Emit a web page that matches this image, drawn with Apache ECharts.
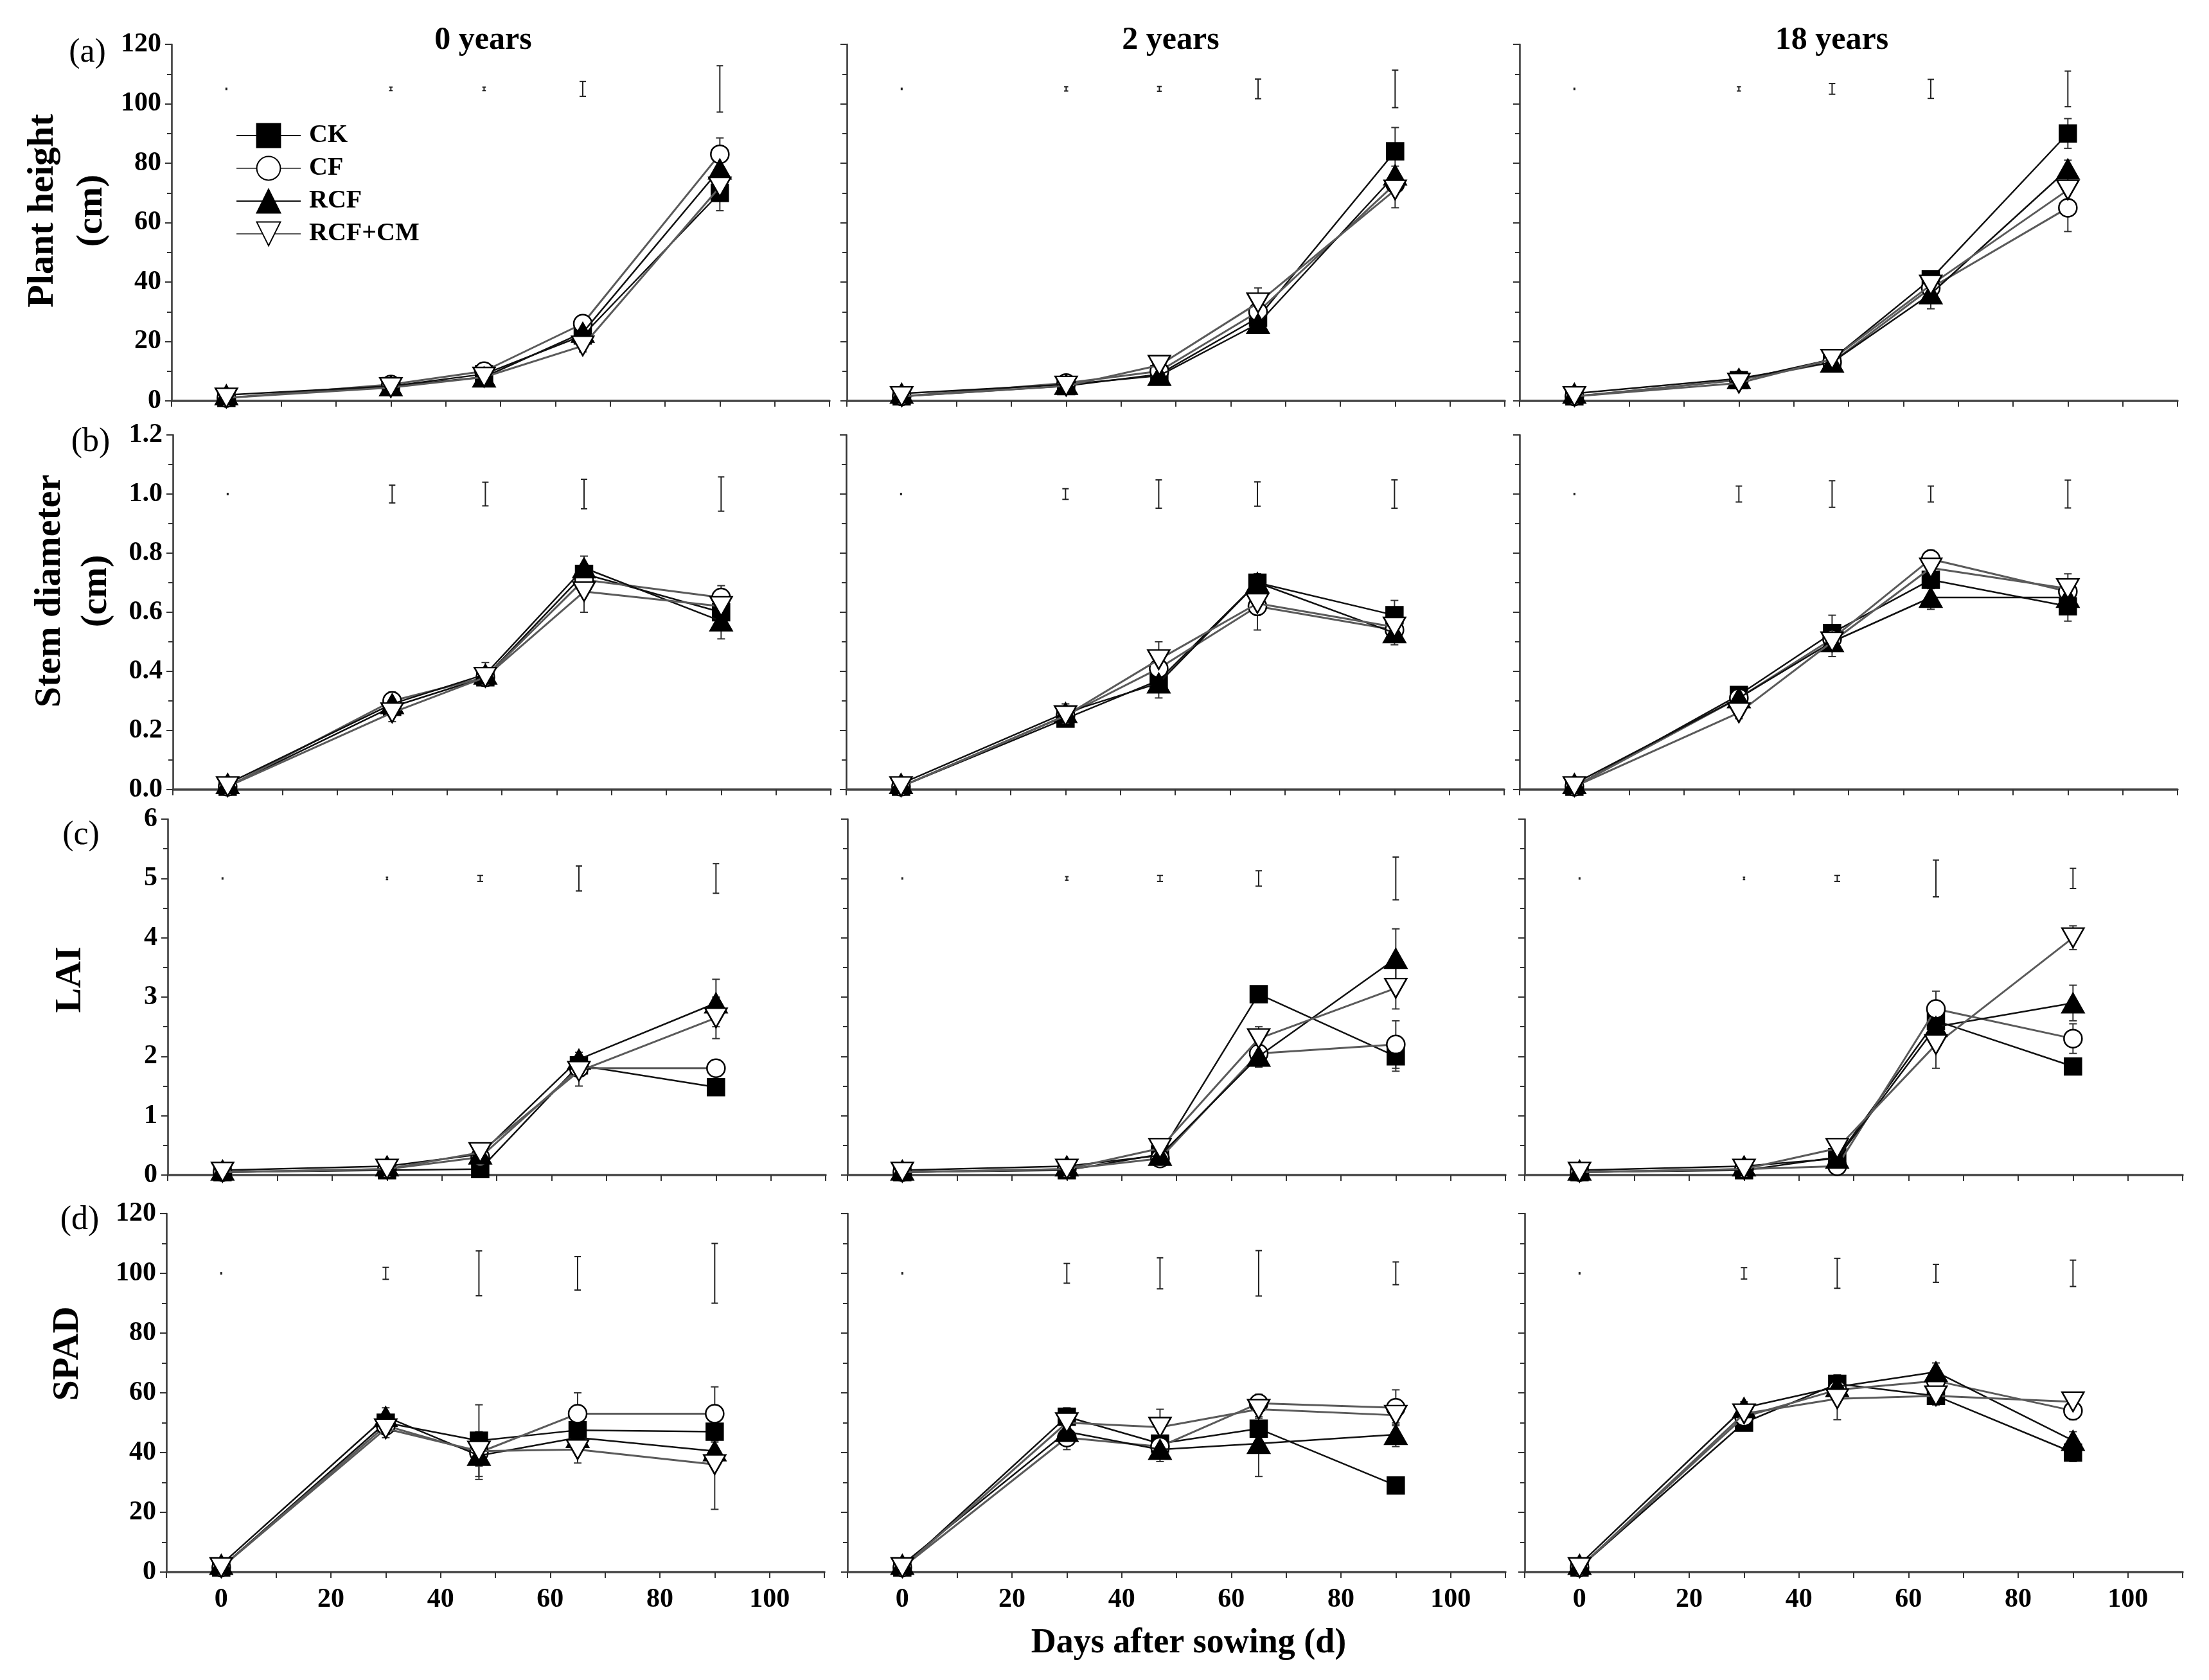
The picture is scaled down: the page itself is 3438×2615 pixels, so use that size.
<!DOCTYPE html>
<html>
<head>
<meta charset="utf-8">
<script src="https://cdn.jsdelivr.net/npm/echarts@6.0.0/dist/echarts.min.js"></script>
<style>
html,body{margin:0;padding:0;background:#fff;}
#c{width:3438px;height:2615px;}
</style>
</head>
<body>
<div id="c"></div>
<script>
// ---------------- DATA ----------------
const days = [0, 30, 47, 65, 90];
const treatments = ['CK', 'CF', 'RCF', 'RCF+CM'];
const yearTitles = ['0 years', '2 years', '18 years'];
const xTickLabels = [0, 20, 40, 60, 80, 100];
const rowTags = ['(a)', '(b)', '(c)', '(d)'];
const rowTitles = [['Plant height', '(cm)'], ['Stem diameter', '(cm)'], ['LAI'], ['SPAD']];
const xTitle = 'Days after sowing (d)';

// Series order in every panel: CK, CF, RCF, RCF+CM
// Plant height (cm)
const height0  = [[1.0, 5.0, 9.0, 22, 70], [1.0, 5.5, 10, 26, 83], [2.0, 5.0, 8.0, 23, 78], [1.0, 4.5, 8.0, 18.5, 72]];
const height2  = [[1.5, 5.0, 9.0, 28, 84], [1.5, 6.0, 10, 30, 73], [2.5, 5.5, 8.5, 26, 76], [1.5, 5.0, 12, 33, 71]];
const height18 = [[1.5, 7.0, 14, 41, 90], [1.5, 7.0, 13, 38, 65], [2.5, 7.5, 13, 36, 78], [1.5, 6.0, 14, 39, 71]];
// Stem diameter (cm)
const stem0  = [[0.01, 0.28, 0.38, 0.73, 0.60], [0.01, 0.30, 0.38, 0.71, 0.65], [0.02, 0.29, 0.39, 0.75, 0.57], [0.01, 0.26, 0.38, 0.67, 0.62]];
const stem2  = [[0.01, 0.24, 0.37, 0.70, 0.59], [0.01, 0.25, 0.41, 0.62, 0.54], [0.02, 0.26, 0.36, 0.70, 0.53], [0.01, 0.25, 0.44, 0.63, 0.55]];
const stem18 = [[0.01, 0.32, 0.53, 0.71, 0.62], [0.01, 0.31, 0.51, 0.78, 0.67], [0.02, 0.31, 0.50, 0.65, 0.65], [0.01, 0.26, 0.50, 0.75, 0.68]];
// LAI
const lai0  = [[0.05, 0.08, 0.10, 1.85, 1.48], [0.05, 0.10, 0.30, 1.80, 1.80], [0.08, 0.15, 0.35, 1.95, 2.90], [0.05, 0.10, 0.38, 1.75, 2.65]];
const lai2  = [[0.05, 0.08, 0.35, 3.05, 2.00], [0.05, 0.10, 0.28, 2.05, 2.20], [0.08, 0.15, 0.33, 2.00, 3.65], [0.05, 0.10, 0.45, 2.30, 3.15]];
const lai18 = [[0.05, 0.08, 0.30, 2.60, 1.83], [0.05, 0.10, 0.15, 2.80, 2.30], [0.08, 0.15, 0.28, 2.50, 2.90], [0.05, 0.10, 0.45, 2.20, 4.00]];
// SPAD
const spad0  = [[1.5, 50, 44, 47.5, 47], [1.5, 49, 40, 53, 53], [2.5, 52, 39, 45, 40.5], [1.5, 48, 40.5, 41, 36]];
const spad2  = [[1.5, 52, 43, 48, 29], [1.5, 45, 42, 56.5, 55], [2.5, 47, 41, 43, 46], [1.5, 50, 48.5, 54.5, 52.5]];
const spad18 = [[1.5, 50, 63, 59, 40], [1.5, 52, 61, 64, 54], [2.5, 55, 62, 67, 44], [1.5, 53, 58, 59, 57]];

// Standard errors (same layout)
const heightErr0  = [[0.3, 1, 1, 2, 6], [0.3, 1, 1, 2, 5.5], [0.3, 1, 1, 2, 3], [0.3, 1, 1.5, 2, 3]];
const heightErr2  = [[0.3, 1, 1, 2, 8], [0.3, 1, 1, 2, 3], [0.3, 1, 1, 2, 3], [0.3, 1, 1.5, 5, 6]];
const heightErr18 = [[0.3, 1, 1, 2, 5], [0.3, 1, 1, 2, 8], [0.3, 1, 1, 5, 3], [0.3, 1, 2, 2, 4]];
const stemErr0  = [[0.005, 0.02, 0.02, 0.03, 0.03], [0.005, 0.03, 0.02, 0.03, 0.04], [0.005, 0.02, 0.04, 0.04, 0.06], [0.005, 0.03, 0.03, 0.07, 0.03]];
const stemErr2  = [[0.005, 0.02, 0.03, 0.03, 0.05], [0.005, 0.02, 0.03, 0.08, 0.03], [0.005, 0.03, 0.05, 0.03, 0.04], [0.005, 0.02, 0.06, 0.04, 0.03]];
const stemErr18 = [[0.005, 0.02, 0.06, 0.03, 0.05], [0.005, 0.02, 0.03, 0.03, 0.03], [0.005, 0.02, 0.05, 0.04, 0.03], [0.005, 0.02, 0.03, 0.03, 0.05]];
const laiErr0  = [[0.01, 0.02, 0.05, 0.10, 0.10], [0.01, 0.02, 0.05, 0.10, 0.10], [0.01, 0.03, 0.10, 0.12, 0.40], [0.01, 0.02, 0.10, 0.25, 0.35]];
const laiErr2  = [[0.01, 0.02, 0.05, 0.10, 0.25], [0.01, 0.02, 0.05, 0.10, 0.40], [0.01, 0.02, 0.05, 0.18, 0.50], [0.01, 0.02, 0.10, 0.20, 0.35]];
const laiErr18 = [[0.01, 0.02, 0.05, 0.30, 0.10], [0.01, 0.02, 0.05, 0.30, 0.25], [0.01, 0.02, 0.05, 0.30, 0.30], [0.01, 0.02, 0.10, 0.40, 0.20]];
const spadErr0  = [[0.5, 3, 12, 4, 3], [0.5, 3, 4, 7, 9], [0.5, 3, 8, 4, 3], [0.5, 3, 5, 4.5, 15]];
const spadErr2  = [[0.5, 3, 4, 4, 2], [0.5, 4, 3, 3, 6], [0.5, 3, 4, 11, 4], [0.5, 3, 6, 3, 3]];
const spadErr18 = [[0.5, 2, 3, 3, 3], [0.5, 2, 3, 3, 3], [0.5, 2, 3, 3, 3], [0.5, 2, 7, 3, 2]];

// LSD bars drawn at the top of each panel: centre value per row, half length per day
const lsdCenters = [105, 1.0, 5, 100];
const heightLsd0 = [0.2, 0.6, 0.6, 2.5, 7.8];
const heightLsd2 = [0.2, 0.7, 0.8, 3.3, 6.3];
const heightLsd18 = [0.2, 0.7, 1.8, 3.2, 6.0];
const stemLsd0 = [0.002, 0.030, 0.040, 0.050, 0.058];
const stemLsd2 = [0.002, 0.018, 0.048, 0.041, 0.048];
const stemLsd18 = [0.002, 0.027, 0.045, 0.027, 0.047];
const laiLsd0 = [0.01, 0.02, 0.05, 0.21, 0.25];
const laiLsd2 = [0.01, 0.03, 0.05, 0.13, 0.36];
const laiLsd18 = [0.01, 0.02, 0.05, 0.31, 0.17];
const spadLsd0 = [0.2, 2.0, 7.5, 5.6, 10];
const spadLsd2 = [0.2, 3.3, 5.2, 7.6, 3.8];
const spadLsd18 = [0.2, 1.9, 5.0, 3.0, 4.4];

// y-axis scales per row
const yMax = [120, 1.2, 6, 120];
const yMajor = [20, 0.2, 1, 20];
const yDecimals = [0, 1, 0, 0];

// ---------------- LAYOUT / STYLE ----------------
const values = [[height0, height2, height18], [stem0, stem2, stem18], [lai0, lai2, lai18], [spad0, spad2, spad18]];
const errs = [[heightErr0, heightErr2, heightErr18], [stemErr0, stemErr2, stemErr18], [laiErr0, laiErr2, laiErr18], [spadErr0, spadErr2, spadErr18]];
const lsds = [[heightLsd0, heightLsd2, heightLsd18], [stemLsd0, stemLsd2, stemLsd18], [laiLsd0, laiLsd2, laiLsd18], [spadLsd0, spadLsd2, spadLsd18]];

const rowLayout = [
  {top: 69, bottom: 624, lefts: [267, 1318, 2365]},
  {top: 677, bottom: 1229, lefts: [269, 1317, 2365]},
  {top: 1275, bottom: 1829, lefts: [261, 1319, 2373]},
  {top: 1889, bottom: 2447, lefts: [259, 1319, 2373]}
];
const plotWidth = 1024;
const FONT = 'Liberation Serif, Times New Roman, serif';

const seriesStyle = [
  {symbol: 'rect', symbolSize: 26, rotate: 0, fill: '#000', border: '#000', line: '#111', lw: 2.5},
  {symbol: 'circle', symbolSize: 28, rotate: 0, fill: '#fff', border: '#000', line: '#5a5a5a', lw: 3},
  {symbol: 'triangle', symbolSize: [34, 30], rotate: 0, fill: '#000', border: '#000', line: '#111', lw: 2.5},
  {symbol: 'triangle', symbolSize: [34, 30], rotate: 180, fill: '#fff', border: '#000', line: '#5a5a5a', lw: 3}
];

function barRender(capMax, color, width) {
  return function (params, api) {
    const x = api.value(0), y = api.value(1), e = api.value(2);
    const t = api.coord([x, y + e]);
    const b = api.coord([x, y - e]);
    const len = Math.abs(b[1] - t[1]);
    const cap = Math.min(capMax, Math.max(1.5, len * 0.5));
    const st = {stroke: color, lineWidth: width};
    return {
      type: 'group',
      children: [
        {type: 'line', shape: {x1: t[0], y1: t[1], x2: b[0], y2: b[1]}, style: st},
        {type: 'line', shape: {x1: t[0] - cap, y1: t[1], x2: t[0] + cap, y2: t[1]}, style: st},
        {type: 'line', shape: {x1: b[0] - cap, y1: b[1], x2: b[0] + cap, y2: b[1]}, style: st}
      ]
    };
  };
}

const grids = [], xAxes = [], yAxes = [], series = [];
for (let r = 0; r < 4; r++) {
  const L = rowLayout[r];
  for (let c = 0; c < 3; c++) {
    const idx = r * 3 + c;
    grids.push({left: L.lefts[c], top: L.top, width: plotWidth, height: L.bottom - L.top,
                containLabel: false, outerBoundsMode: 'none'});
    xAxes.push({
      gridIndex: idx, type: 'value', min: -10, max: 110, interval: 10,
      axisLine: {show: true, onZero: false, lineStyle: {color: '#444', width: 3.5}},
      axisTick: {show: true, inside: false, length: 9, lineStyle: {color: '#333', width: 2}},
      axisLabel: {
        show: r === 3, margin: 22, color: '#000', fontFamily: FONT, fontWeight: 'bold', fontSize: 42,
        formatter: v => (xTickLabels.indexOf(v) >= 0 ? String(v) : '')
      },
      splitLine: {show: false}
    });
    const dec = yDecimals[r];
    yAxes.push({
      gridIndex: idx, type: 'value', min: 0, max: yMax[r], interval: yMajor[r],
      axisLine: {show: true, onZero: false, lineStyle: {color: '#333', width: 2.5}},
      axisTick: {show: true, inside: false, length: 10, lineStyle: {color: '#333', width: 2}},
      minorTick: {show: true, splitNumber: 2, length: 7, lineStyle: {color: '#333', width: 2}},
      axisLabel: {show: c === 0, margin: 16, color: '#000', fontFamily: FONT, fontWeight: 'bold', fontSize: 42,
                  formatter: v => Number(v).toFixed(dec)},
      splitLine: {show: false}, minorSplitLine: {show: false}
    });

    // LSD bars at the top
    const lsdData = days.map((d, i) => [d, lsdCenters[r], lsds[r][c][i]]);
    series.push({
      type: 'custom', xAxisIndex: idx, yAxisIndex: idx, coordinateSystem: 'cartesian2d',
      renderItem: barRender(5, '#222', 2), data: lsdData, clip: false, silent: true, z: 1,
      encode: {x: 0, y: 1}
    });
    // error bars for each point
    const errData = [];
    for (let s = 0; s < 4; s++) {
      days.forEach((d, i) => errData.push([d, values[r][c][s][i], errs[r][c][s][i]]));
    }
    series.push({
      type: 'custom', xAxisIndex: idx, yAxisIndex: idx, coordinateSystem: 'cartesian2d',
      renderItem: barRender(6, '#333', 2), data: errData, clip: false, silent: true, z: 1,
      encode: {x: 0, y: 1}
    });
    // lines
    for (let s = 0; s < 4; s++) {
      const S = seriesStyle[s];
      series.push({
        name: treatments[s], type: 'line', xAxisIndex: idx, yAxisIndex: idx,
        data: days.map((d, i) => [d, values[r][c][s][i]]),
        symbol: S.symbol, symbolSize: S.symbolSize, symbolRotate: S.rotate, showAllSymbol: true,
        itemStyle: {color: S.fill, borderColor: S.border, borderWidth: 2.5, opacity: 1},
        lineStyle: {color: S.line, width: S.lw},
        clip: false, silent: true, z: 2 + s * 0.01, animation: false
      });
    }
  }
}

// text graphics
const graphics = [];
function txt(text, x, y, size, weight, rot) {
  graphics.push({
    type: 'text', x: x, y: y, rotation: rot || 0, silent: true,
    style: {text: text, x: 0, y: 0, font: weight + ' ' + size + 'px ' + FONT, fill: '#000',
            align: 'center', verticalAlign: 'middle', textAlign: 'center', textVerticalAlign: 'middle'}
  });
}
const titleX = [752, 1822, 2851];
yearTitles.forEach((t, i) => txt(t, titleX[i], 63, 50, 'bold'));
const tagPos = [[136, 82], [141, 688], [126, 1300], [124, 1899]];
rowTags.forEach((t, i) => txt(t, tagPos[i][0], tagPos[i][1], 52, 'normal'));
const rowTitlePos = [{xs: [67, 143], y: 328}, {xs: [78, 150], y: 920}, {xs: [110], y: 1525}, {xs: [106], y: 2107}];
rowTitles.forEach((lines, i) => {
  lines.forEach((ln, k) => txt(ln, rowTitlePos[i].xs[k], rowTitlePos[i].y, 58, 'bold', Math.PI / 2));
});
txt(xTitle, 1850, 2558, 54, 'bold');

const option = {
  backgroundColor: '#fff',
  animation: false,
  grid: grids,
  xAxis: xAxes,
  yAxis: yAxes,
  legend: {
    data: treatments, orient: 'vertical', left: 367, top: 191, padding: 0,
    itemWidth: 100, itemHeight: 46, itemGap: 11, selectedMode: false,
    textStyle: {fontFamily: FONT, fontWeight: 'bold', fontSize: 40, color: '#000', padding: [0, 0, 0, 8]}
  },
  series: series,
  graphic: graphics
};
const chart = echarts.init(document.getElementById('c'));
chart.setOption(option);
</script>
</body>
</html>
